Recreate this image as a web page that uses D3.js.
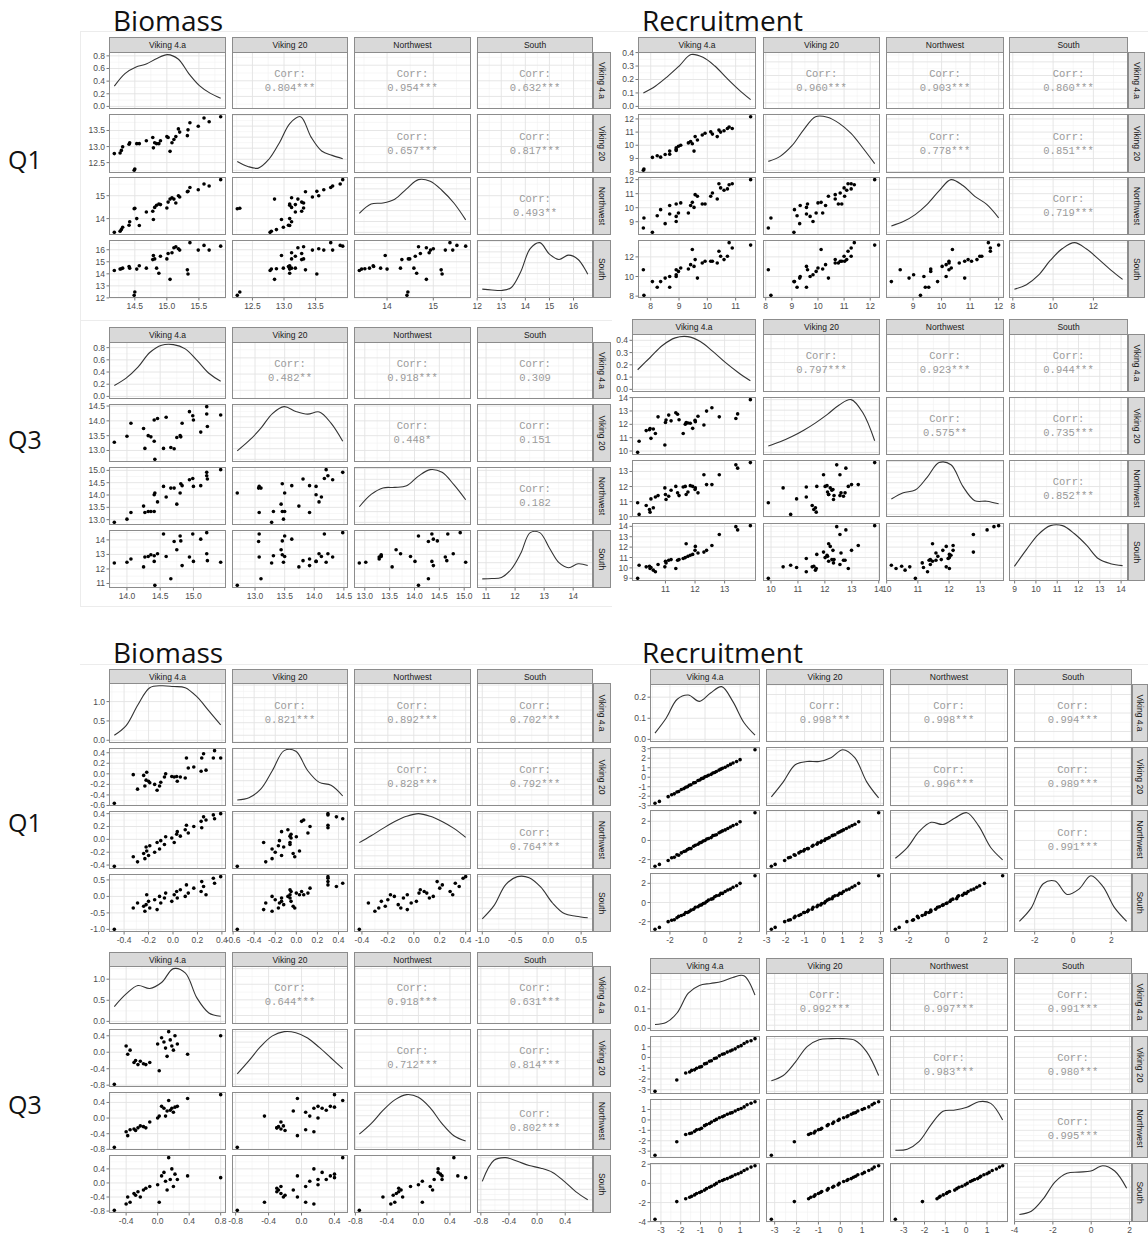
<!DOCTYPE html>
<html>
<head>
  <meta charset="utf-8">
  <title>Pair plots - Biomass and Recruitment</title>
  <script src="https://d3js.org/d3.v7.min.js"></script>
  <style>body{margin:0;background:#fff;}</style>
</head>
<body>
<svg id="fig" width="1148" height="1237"></svg>
<script>
// variable names (strip labels)
var varNames = ["Viking 4.a", "Viking 20", "Northwest", "South"];

// ---- Biomass Q1 (top) ----
var bq1V4a = [14.18,14.27,14.29,14.31,14.41,14.42,14.49,14.50,14.53,14.57,14.68,14.78,14.79,14.81,14.84,14.875,14.90,15.00,15.02,15.05,15.08,15.11,15.14,15.18,15.20,15.32,15.33,15.36,15.49,15.58,15.66,15.84];
var bq1V20 = [12.78,12.80,12.88,12.99,13.07,13.12,12.26,12.30,13.09,13.09,13.18,13.28,12.96,13.12,13.09,13.09,13.18,13.31,13.28,12.85,13.12,13.22,13.31,13.55,13.45,13.34,13.52,13.74,13.63,13.89,13.77,13.93];
var bq1NW = [13.40,13.45,13.52,13.62,13.71,13.86,14.43,14.45,14.00,13.70,14.29,14.32,13.96,14.49,14.58,14.64,14.61,14.46,14.72,14.85,14.91,14.85,14.68,15.00,14.94,15.17,15.19,15.36,15.26,15.51,15.42,15.70];
var bq1S = [14.27,14.39,14.42,14.47,14.61,14.47,12.21,12.49,14.39,14.67,14.47,15.18,15.52,15.24,14.47,14.05,15.46,15.24,15.69,13.54,15.75,16.17,16.25,16.08,15.97,14.33,13.99,16.59,15.97,16.36,15.97,16.30];
var bq1Dens = [
  [0.32,0.52,0.62,0.67,0.76,0.82,0.75,0.52,0.33,0.21,0.13],
  [0.16,0.07,0.04,0.20,0.50,0.85,0.97,0.60,0.35,0.27,0.21],
  [0.35,0.52,0.54,0.61,0.80,0.97,0.94,0.77,0.54,0.23],
  [0.115,0.10,0.09,0.14,0.43,0.86,0.97,0.76,0.66,0.74,0.66,0.39]
];
var bq1Ticks = [["14.5","15.0","15.5"], ["12.5","13.0","13.5"], ["14","15"], ["12","13","14","15","16"]];
var bq1DensTicks = ["0.0","0.2","0.4","0.6","0.8"];
var bq1Corr = ["0.804***","0.954***","0.632***","0.657***","0.817***","0.493**"];

// ---- Biomass Q3 (top) ----
var bq3V4a = [13.81,14.00,14.06,14.25,14.27,14.32,14.36,14.41,14.41,14.42,14.46,14.55,14.59,14.66,14.71,14.75,14.80,14.81,14.83,14.94,14.99,15.00,15.11,15.20,15.20,15.21,15.41];
var bq3V20 = [13.28,13.48,13.92,13.74,13.07,13.50,13.46,13.31,14.03,12.70,14.08,13.07,14.12,13.10,13.06,13.44,13.50,13.46,13.92,14.31,14.17,14.03,13.62,14.48,14.23,13.81,14.20];
var bq3NW = [12.89,13.02,13.29,13.55,13.29,13.33,13.33,13.33,14.01,14.08,13.72,14.35,13.92,14.28,14.28,13.63,14.08,14.46,14.38,14.62,14.67,14.35,14.38,14.92,14.78,14.65,15.03];
var bq3S = [12.41,12.46,12.69,12.14,12.82,12.86,12.98,12.91,12.52,10.87,13.05,14.41,12.86,11.33,13.89,13.32,14.27,13.93,12.23,12.82,14.41,12.52,14.05,14.50,13.05,12.57,12.46];
var bq3Dens = [
  [0.18,0.30,0.48,0.72,0.84,0.85,0.78,0.59,0.38,0.25],
  [0.16,0.35,0.58,0.86,0.99,0.90,0.85,0.89,0.68,0.34],
  [0.29,0.52,0.64,0.65,0.68,0.86,0.98,0.93,0.70,0.42],
  [0.115,0.12,0.14,0.28,0.56,0.93,0.93,0.66,0.40,0.31,0.38,0.35]
];
var bq3Ticks = [["14.0","14.5","15.0"], ["13.0","13.5","14.0","14.5"], ["13.0","13.5","14.0","14.5","15.0"], ["11","12","13","14"]];
var bq3DensTicks = ["0.0","0.2","0.4","0.6","0.8"];
var bq3Corr = ["0.482**","0.918***","0.309","0.448*","0.151","0.182"];

// ---- Recruitment Q1 (top) ----
var rq1V4a = [7.74,7.76,8.06,8.23,8.35,8.51,8.67,8.67,8.90,8.90,8.98,8.90,9.06,9.33,9.41,9.47,9.53,9.57,9.65,9.82,9.92,10.12,10.18,10.35,10.41,10.47,10.59,10.71,10.77,10.88,11.53];
var rq1V20 = [8.10,8.20,9.08,9.20,9.10,9.30,9.56,9.32,9.81,9.70,9.93,9.60,10.00,10.18,10.29,10.12,9.56,10.66,10.40,10.78,10.91,11.02,10.85,10.66,11.15,11.00,11.10,11.27,11.39,11.27,12.17];
var rq1NW = [8.55,9.26,8.24,9.43,9.86,8.86,9.55,10.16,9.02,9.38,9.62,10.26,10.34,9.62,10.16,10.38,10.02,10.93,10.81,10.26,10.26,10.81,11.05,10.62,11.71,11.41,11.24,11.34,11.64,11.71,12.00];
var rq1S = [10.69,8.08,9.48,8.91,9.48,9.84,8.91,10.00,10.18,10.00,10.52,10.69,10.87,10.76,11.21,12.75,11.03,11.72,9.84,11.38,11.55,11.55,11.55,11.38,12.58,12.06,11.72,12.06,13.45,12.90,13.20];
var rq1Dens = [
  [0.10,0.15,0.22,0.30,0.385,0.365,0.30,0.21,0.125,0.05],
  [0.16,0.25,0.44,0.73,0.96,0.95,0.84,0.66,0.40,0.12],
  [0.12,0.20,0.33,0.52,0.77,0.98,0.87,0.67,0.52,0.27],
  [0.115,0.20,0.38,0.66,0.88,0.99,0.87,0.68,0.48,0.30]
];
var rq1Ticks = [["8","9","10","11"], ["8","9","10","11","12"], ["9","10","11","12"], ["8","10","12"]];
var rq1DensTicks = ["0.0","0.1","0.2","0.3","0.4"];
var rq1Corr = ["0.960***","0.903***","0.860***","0.778***","0.851***","0.719***"];

// ---- Recruitment Q3 (top) ----
var rq3V4a = [10.06,10.11,10.35,10.51,10.46,10.48,10.59,10.66,10.75,10.98,11.00,11.02,11.11,11.19,11.35,11.41,11.46,11.60,11.67,11.70,11.76,11.84,11.92,12.00,12.01,12.10,12.30,12.39,12.57,12.82,13.38,13.44,13.87];
var rq3V20 = [9.90,10.73,11.53,10.95,11.59,11.68,11.65,11.31,12.56,10.45,12.14,12.32,12.69,12.26,12.87,12.75,12.34,11.31,12.01,12.14,12.10,12.08,11.70,12.30,12.20,12.60,11.95,12.99,13.24,12.56,12.44,12.78,13.85];
var rq3NW = [10.92,10.15,10.74,11.18,10.48,10.30,10.59,11.31,11.40,11.91,11.47,11.14,11.36,11.75,12.01,11.58,11.40,11.97,12.01,11.47,11.64,12.06,12.01,11.80,11.91,11.58,12.78,12.13,12.13,12.78,13.44,13.22,13.59];
var rq3S = [8.99,10.26,10.10,10.04,10.16,9.94,9.78,9.62,10.32,10.10,10.64,10.48,10.73,10.80,9.94,10.73,10.80,10.90,10.99,12.32,11.11,11.21,11.30,11.69,12.07,11.43,11.52,11.69,12.16,13.21,13.97,13.66,14.07];
var rq3Dens = [
  [0.16,0.26,0.36,0.42,0.43,0.39,0.31,0.22,0.14,0.07],
  [0.12,0.20,0.30,0.42,0.56,0.72,0.90,1.00,0.75,0.22],
  [0.29,0.41,0.46,0.70,0.98,0.94,0.53,0.26,0.25,0.20],
  [0.22,0.53,0.81,0.97,0.97,0.82,0.61,0.36,0.27,0.235]
];
var rq3Ticks = [["11","12","13"], ["10","11","12","13","14"], ["10","11","12","13"], ["9","10","11","12","13","14"]];
var rq3DensTicks = ["0.0","0.1","0.2","0.3","0.4"];
var rq3Corr = ["0.797***","0.923***","0.944***","0.575**","0.735***","0.852***"];

// ---- Biomass Q1 (bottom, anomalies) ----
var bq1aV4a = [-0.48,-0.325,-0.29,-0.24,-0.23,-0.22,-0.215,-0.20,-0.19,-0.15,-0.13,-0.11,-0.10,-0.07,-0.06,-0.01,0.01,0.03,0.035,0.06,0.10,0.11,0.125,0.17,0.23,0.235,0.25,0.27,0.33,0.34,0.39];
var bq1aV20 = [-0.56,-0.015,-0.29,-0.03,-0.23,-0.12,0.03,-0.14,-0.17,-0.20,-0.31,-0.23,-0.16,-0.06,0.00,-0.05,-0.06,-0.05,-0.14,-0.06,-0.08,0.30,0.11,0.13,0.05,0.30,0.38,0.07,0.30,0.44,0.30];
var bq1aNW = [-0.42,-0.27,-0.35,-0.22,-0.30,-0.12,-0.18,-0.25,-0.10,-0.20,-0.05,-0.15,-0.02,-0.08,0.04,0.02,-0.05,0.08,0.12,0.05,0.15,0.22,0.10,0.20,0.28,0.18,0.35,0.30,0.38,0.32,0.40];
var bq1aS = [-1.0,-0.35,-0.20,-0.30,-0.45,-0.25,0.05,-0.15,-0.35,-0.10,-0.40,0.0,-0.20,-0.05,0.10,-0.15,0.05,0.15,-0.05,0.20,0.0,0.35,0.10,0.25,0.15,0.45,0.30,0.05,0.55,0.40,0.60];
var bq1aDens = [
  [0.13,0.38,0.92,1.36,1.41,1.39,1.36,1.12,0.76,0.40],
  [0.06,0.10,0.25,0.58,0.93,0.92,0.58,0.37,0.32,0.13],
  [0.45,0.58,0.72,0.85,0.95,1.00,0.95,0.85,0.72,0.55],
  [0.20,0.45,0.85,1.00,0.98,0.80,0.50,0.30,0.25,0.22]
];
var bq1aTicks = [["-0.4","-0.2","0.0","0.2","0.4"], ["-0.6","-0.4","-0.2","0.0","0.2","0.4"], ["-0.4","-0.2","0.0","0.2","0.4"], ["-1.0","-0.5","0.0","0.5"]];
var bq1aDensTicks = ["0.0","0.5","1.0"];
var bq1aCorr = ["0.821***","0.892***","0.702***","0.828***","0.792***","0.764***"];

// ---- Biomass Q3 (bottom, anomalies) ----
var bq3aV4a = [-0.55,-0.40,-0.38,-0.35,-0.30,-0.28,-0.25,-0.22,-0.18,-0.15,-0.10,0.00,0.02,0.05,0.08,0.10,0.12,0.14,0.16,0.18,0.20,0.22,0.25,0.38,0.80];
var bq3aV20 = [-0.78,0.15,-0.05,0.05,-0.25,-0.20,-0.30,-0.22,-0.28,-0.30,-0.25,0.20,-0.45,0.35,0.25,0.10,-0.10,0.50,0.30,0.15,0.05,0.40,0.20,-0.05,0.40];
var bq3aNW = [-0.75,-0.35,-0.45,-0.30,-0.28,-0.32,-0.25,-0.20,-0.22,-0.25,-0.10,0.00,0.05,0.30,0.25,0.05,0.18,0.45,0.20,0.25,0.15,0.28,0.30,0.50,0.60];
var bq3aS = [-0.78,-0.60,-0.40,-0.55,-0.30,-0.35,-0.25,-0.40,-0.20,-0.15,-0.10,-0.05,-0.55,0.20,0.30,0.05,-0.20,0.72,0.10,0.40,-0.10,0.25,0.10,0.20,0.15];
var bq3aDens = [
  [0.35,0.65,0.85,0.78,0.92,1.25,1.15,0.55,0.20,0.12],
  [0.20,0.45,0.72,0.92,1.00,0.98,0.88,0.70,0.50,0.30],
  [0.25,0.45,0.70,0.90,1.00,0.95,0.75,0.45,0.22,0.12],
  [0.55,0.95,1.00,0.93,0.85,0.80,0.72,0.55,0.35,0.20]
];
var bq3aTicks = [["-0.4","0.0","0.4","0.8"], ["-0.8","-0.4","0.0","0.4"], ["-0.8","-0.4","0.0","0.4"], ["-0.8","-0.4","0.0","0.4","0.8"]];
var bq3aDensTicks = ["0.0","0.5","1.0"];
var bq3aCorr = ["0.644***","0.918***","0.631***","0.712***","0.814***","0.802***"];

// ---- Recruitment Q1 (bottom, anomalies) ----
var rq1aV4a = [-2.85,-2.6,-2.1,-1.9,-1.75,-1.6,-1.5,-1.35,-1.2,-1.1,-1.0,-0.9,-0.8,-0.65,-0.55,-0.4,-0.3,-0.2,-0.1,0.0,0.1,0.2,0.35,0.45,0.55,0.65,0.8,0.9,1.0,1.15,1.3,1.45,1.6,1.8,2.0,2.85];
var rq1aV20 = [-2.75,-2.55,-2.05,-1.85,-1.75,-1.55,-1.5,-1.3,-1.2,-1.05,-1.0,-0.85,-0.8,-0.6,-0.55,-0.35,-0.3,-0.15,-0.1,0.05,0.1,0.2,0.3,0.45,0.5,0.6,0.75,0.85,0.95,1.05,1.2,1.35,1.5,1.65,1.85,2.9];
var rq1aNW = [-2.7,-2.5,-2.1,-1.8,-1.75,-1.5,-1.55,-1.3,-1.15,-1.1,-0.95,-0.85,-0.85,-0.6,-0.5,-0.4,-0.25,-0.2,-0.05,0.0,0.15,0.2,0.3,0.5,0.55,0.6,0.8,0.9,1.0,1.1,1.25,1.4,1.55,1.7,1.95,2.9];
var rq1aS = [-2.8,-2.6,-2.0,-1.85,-1.8,-1.6,-1.45,-1.35,-1.25,-1.05,-1.05,-0.95,-0.8,-0.7,-0.5,-0.45,-0.3,-0.25,-0.1,-0.05,0.1,0.25,0.35,0.4,0.6,0.7,0.75,0.95,0.95,1.15,1.3,1.4,1.6,1.75,2.0,2.8];
var rq1aDens = [
  [0.03,0.10,0.19,0.21,0.18,0.22,0.25,0.18,0.08,0.02],
  [0.12,0.40,0.72,0.78,0.78,0.85,1.00,0.85,0.40,0.10],
  [0.15,0.35,0.65,0.82,0.78,0.90,1.00,0.75,0.35,0.12],
  [0.15,0.40,0.85,0.90,0.65,0.75,1.00,0.80,0.40,0.15]
];
var rq1aTicks = [["-2","0","2"], ["-3","-2","-1","0","1","2","3"], ["-2","0","2"], ["-2","0","2"]];
var rq1aDensTicks = ["0.0","0.1","0.2"];
var rq1aCorr = ["0.998***","0.998***","0.994***","0.996***","0.989***","0.991***"];

// ---- Recruitment Q3 (bottom, anomalies) ----
var rq3aV4a = [-3.3,-2.2,-1.75,-1.55,-1.45,-1.3,-1.2,-1.05,-0.95,-0.8,-0.7,-0.55,-0.45,-0.3,-0.2,-0.05,0.1,0.2,0.35,0.5,0.6,0.75,0.9,1.05,1.2,1.35,1.55,1.75];
var rq3aV20 = [-3.15,-2.1,-1.45,-1.35,-1.2,-1.15,-1.0,-0.9,-0.85,-0.6,-0.55,-0.35,-0.3,-0.1,-0.05,0.15,0.3,0.35,0.5,0.6,0.7,0.8,1.0,1.1,1.3,1.45,1.55,1.75];
var rq3aNW = [-3.4,-2.1,-1.4,-1.3,-1.25,-1.1,-0.95,-0.9,-0.8,-0.55,-0.45,-0.35,-0.2,-0.05,0.05,0.2,0.3,0.4,0.55,0.65,0.7,0.85,1.0,1.1,1.25,1.45,1.6,1.75];
var rq3aS = [-3.75,-1.9,-1.6,-1.45,-1.35,-1.2,-1.05,-0.95,-0.85,-0.7,-0.55,-0.4,-0.3,-0.15,0.0,0.2,0.3,0.4,0.5,0.65,0.75,0.9,1.0,1.15,1.35,1.5,1.7,1.85];
var rq3aDens = [
  [0.02,0.03,0.08,0.18,0.22,0.23,0.24,0.26,0.27,0.17],
  [0.20,0.30,0.55,0.85,0.98,1.00,1.00,0.97,0.75,0.30],
  [0.09,0.11,0.25,0.55,0.79,0.81,0.86,0.96,0.93,0.63],
  [0.09,0.15,0.38,0.70,0.86,0.88,0.90,1.00,0.90,0.58]
];
var rq3aTicks = [["-3","-2","-1","0","1"], ["-3","-2","-1","0","1","2"], ["-3","-2","-1","0","1"], ["-4","-2","0","2"]];
var rq3aDensTicks = ["0.0","0.1","0.2"];
var rq3aCorr = ["0.992***","0.997***","0.991***","0.983***","0.980***","0.995***"];

var svg = d3.select("#fig");
var sansFont = "'Liberation Sans', Arial, sans-serif";

// faint frame lines of the pasted screenshots
var frame = [[80,31.5,1148,31.5],[80.5,31,80.5,606],[80,320.5,612,320.5],[80,606.5,612,606.5],[80,664.5,1148,664.5]];
svg.selectAll(".frame").data(frame).enter().append("line")
    .attr("x1", function(d){return d[0];}).attr("y1", function(d){return d[1];})
    .attr("x2", function(d){return d[2];}).attr("y2", function(d){return d[3];})
    .attr("stroke", "#ececec").attr("stroke-width", 1);

// titles and quarter labels
var titles = [["Biomass",113,31],["Recruitment",642,31],["Biomass",113,663],["Recruitment",642,663]];
svg.selectAll(".title").data(titles).enter().append("text")
    .attr("x", function(d){return d[1];}).attr("y", function(d){return d[2];})
    .attr("font-family", "'Open Sans', sans-serif").attr("font-size", "28px").attr("fill", "#111")
    .text(function(d){return d[0];});
var quarters = [["Q1",169],["Q3",449],["Q1",832],["Q3",1114]];
svg.selectAll(".quarter").data(quarters).enter().append("text")
    .attr("x", 8).attr("y", function(d){return d[1];})
    .attr("font-family", "'Open Sans', sans-serif").attr("font-size", "25px").attr("fill", "#111")
    .text(function(d){return d[0];});

// midpoints between majors (plus one step outside) for the minor grid
function minorOf(major) {
  var out = [];
  if (major.length < 2) return out;
  var step = major[1] - major[0];
  out.push(major[0] - step/2);
  for (var i = 0; i < major.length; i++) out.push(major[i] + step/2);
  return out;
}

function drawMatrix(cfg) {
  var g = svg.append("g");
  var xs = [], ys = [], dys = [], exts = [];
  for (var k = 0; k < 4; k++) {
    var ext = d3.extent(cfg.obs[k]);
    var pad = (ext[1] - ext[0]) * 0.05;
    exts.push(ext);
    xs.push(d3.scaleLinear().domain([ext[0]-pad, ext[1]+pad]).range([cfg.cols[k], cfg.cols[k] + cfg.colW[k]]));
    ys.push(d3.scaleLinear().domain([ext[0]-pad, ext[1]+pad]).range([cfg.rows[k] + cfg.rowH[k], cfg.rows[k]]));
    var dmax = d3.max(cfg.dens[k]);
    dys.push(d3.scaleLinear().domain([-0.05*dmax, 1.05*dmax]).range([cfg.rows[k] + cfg.rowH[k], cfg.rows[k]]));
  }

  for (var i = 0; i < 4; i++) {
    for (var j = 0; j < 4; j++) {
      var x0 = cfg.cols[j], w = cfg.colW[j], y0 = cfg.rows[i], h = cfg.rowH[i];
      var p = g.append("g");
      p.append("rect").attr("x", x0).attr("y", y0).attr("width", w).attr("height", h).attr("fill", "#fff");

      // grid
      var xMaj = cfg.ticks[j].map(Number);
      var yScale = (i == j) ? dys[i] : ys[i];
      var yMaj;
      if (i == j) yMaj = (i == 0) ? cfg.densTicks.map(Number) : dys[i].ticks(4);
      else yMaj = cfg.ticks[i].map(Number);
      var dx = xs[j].domain(), dy = yScale.domain();
      var inX = function(v){ return v >= dx[0] && v <= dx[1]; };
      var inY = function(v){ return v >= dy[0] && v <= dy[1]; };
      p.selectAll(".vmin").data(minorOf(xMaj).filter(inX)).enter().append("line")
          .attr("x1", function(d){return xs[j](d);}).attr("x2", function(d){return xs[j](d);})
          .attr("y1", y0).attr("y2", y0 + h).attr("stroke", "#f1f1f1").attr("stroke-width", 0.6);
      p.selectAll(".hmin").data(minorOf(yMaj).filter(inY)).enter().append("line")
          .attr("y1", function(d){return yScale(d);}).attr("y2", function(d){return yScale(d);})
          .attr("x1", x0).attr("x2", x0 + w).attr("stroke", "#f1f1f1").attr("stroke-width", 0.6);
      p.selectAll(".vmaj").data(xMaj.filter(inX)).enter().append("line")
          .attr("x1", function(d){return xs[j](d);}).attr("x2", function(d){return xs[j](d);})
          .attr("y1", y0).attr("y2", y0 + h).attr("stroke", "#e3e3e3").attr("stroke-width", 0.9);
      p.selectAll(".hmaj").data(yMaj.filter(inY)).enter().append("line")
          .attr("y1", function(d){return yScale(d);}).attr("y2", function(d){return yScale(d);})
          .attr("x1", x0).attr("x2", x0 + w).attr("stroke", "#e3e3e3").attr("stroke-width", 0.9);

      if (i == j) {
        // density curve
        var dv = cfg.dens[i], e = exts[i];
        var pts = dv.map(function(v, n){ return [e[0] + n * (e[1] - e[0]) / (dv.length - 1), v]; });
        var line = d3.line()
            .x(function(d){ return xs[i](d[0]); })
            .y(function(d){ return dys[i](d[1]); })
            .curve(d3.curveCatmullRom.alpha(0.5));
        p.append("path").attr("d", line(pts)).attr("fill", "none")
            .attr("stroke", "#333").attr("stroke-width", 1.1);
      } else if (i > j) {
        // scatter
        var xi = cfg.obs[j], yi = cfg.obs[i], ii = i, jj = j;
        p.selectAll("circle").data(d3.range(xi.length)).enter().append("circle")
            .attr("cx", function(n){ return xs[jj](xi[n]); })
            .attr("cy", function(n){ return ys[ii](yi[n]); })
            .attr("r", 1.8).attr("fill", "#000");
      }

      p.append("rect").attr("x", x0 + 0.5).attr("y", y0 + 0.5).attr("width", w - 1).attr("height", h - 1)
          .attr("fill", "none").attr("stroke", "#8c8c8c").attr("stroke-width", 1);
    }
  }

  // correlation text (upper triangle, order 12,13,14,23,24,34)
  var pairs = [[0,1],[0,2],[0,3],[1,2],[1,3],[2,3]];
  pairs.forEach(function(pr, n) {
    var cx = cfg.cols[pr[1]] + cfg.colW[pr[1]] / 2, cy = cfg.rows[pr[0]] + cfg.rowH[pr[0]] / 2;
    [["Corr:", -7], [cfg.corr[n], 7]].forEach(function(t) {
      g.append("text").attr("x", cx).attr("y", cy + t[1])
          .attr("text-anchor", "middle").attr("dominant-baseline", "central")
          .attr("font-family", "'Liberation Mono', 'Courier New', monospace").attr("font-size", "10.5px")
          .attr("fill", "#9a9a9a").text(t[0]);
    });
  });

  // top strips
  for (var j = 0; j < 4; j++) {
    g.append("rect").attr("x", cfg.cols[j] + 0.5).attr("y", cfg.stripTop + 0.5)
        .attr("width", cfg.colW[j] - 1).attr("height", cfg.rows[0] - cfg.stripTop)
        .attr("fill", "#d9d9d9").attr("stroke", "#8c8c8c");
    g.append("text").attr("x", cfg.cols[j] + cfg.colW[j] / 2).attr("y", (cfg.stripTop + cfg.rows[0]) / 2 + 0.5)
        .attr("text-anchor", "middle").attr("dominant-baseline", "central")
        .attr("font-family", sansFont).attr("font-size", "8.5px").attr("fill", "#1a1a1a").text(varNames[j]);
  }
  // right strips
  var sx = cfg.cols[3] + cfg.colW[3];
  for (var i = 0; i < 4; i++) {
    g.append("rect").attr("x", sx + 0.5).attr("y", cfg.rows[i] + 0.5)
        .attr("width", cfg.stripRight - sx - 1).attr("height", cfg.rowH[i] - 1)
        .attr("fill", "#d9d9d9").attr("stroke", "#8c8c8c");
    var tx = (sx + cfg.stripRight) / 2, ty = cfg.rows[i] + cfg.rowH[i] / 2;
    g.append("text").attr("x", tx).attr("y", ty)
        .attr("transform", "rotate(90 " + tx + "," + ty + ")")
        .attr("text-anchor", "middle").attr("dominant-baseline", "central")
        .attr("font-family", sansFont).attr("font-size", "8.5px").attr("fill", "#1a1a1a").text(varNames[i]);
  }

  // left axis labels
  for (var i = 0; i < 4; i++) {
    var sc = (i == 0) ? dys[0] : ys[i];
    var labs = (i == 0) ? cfg.densTicks : cfg.ticks[i];
    var dom = sc.domain();
    labs.filter(function(l){ return +l >= dom[0] && +l <= dom[1]; }).forEach(function(l) {
      var y = sc(+l);
      g.append("line").attr("x1", cfg.cols[0] - 2.5).attr("x2", cfg.cols[0]).attr("y1", y).attr("y2", y)
          .attr("stroke", "#555").attr("stroke-width", 0.8);
      g.append("text").attr("x", cfg.cols[0] - 4).attr("y", y).attr("text-anchor", "end")
          .attr("dominant-baseline", "central").attr("font-family", sansFont)
          .attr("font-size", "8.5px").attr("fill", "#4d4d4d").text(l);
    });
  }
  // bottom axis labels
  var by = cfg.rows[3] + cfg.rowH[3];
  for (var j = 0; j < 4; j++) {
    var dom = xs[j].domain();
    cfg.ticks[j].filter(function(l){ return +l >= dom[0] && +l <= dom[1]; }).forEach(function(l) {
      var x = xs[j](+l);
      g.append("line").attr("x1", x).attr("x2", x).attr("y1", by).attr("y2", by + 2.5)
          .attr("stroke", "#555").attr("stroke-width", 0.8);
      g.append("text").attr("x", x).attr("y", by + 11).attr("text-anchor", "middle")
          .attr("font-family", sansFont).attr("font-size", "8.5px").attr("fill", "#4d4d4d").text(l);
    });
  }
}

var leftCols = [109, 232, 354, 477], leftW = [117, 116, 117, 116];

drawMatrix({obs: [bq1V4a, bq1V20, bq1NW, bq1S], dens: bq1Dens, ticks: bq1Ticks, densTicks: bq1DensTicks, corr: bq1Corr,
  cols: leftCols, colW: leftW, rows: [52, 114, 177, 240], rowH: [57, 59, 58, 58], stripTop: 37, stripRight: 611});
drawMatrix({obs: [bq3V4a, bq3V20, bq3NW, bq3S], dens: bq3Dens, ticks: bq3Ticks, densTicks: bq3DensTicks, corr: bq3Corr,
  cols: leftCols, colW: leftW, rows: [342, 404, 467, 530], rowH: [57, 58, 58, 58], stripTop: 327, stripRight: 611});
drawMatrix({obs: [rq1V4a, rq1V20, rq1NW, rq1S], dens: rq1Dens, ticks: rq1Ticks, densTicks: rq1DensTicks, corr: rq1Corr,
  cols: [638, 763, 886, 1009], colW: [118, 117, 118, 119], rows: [52, 114, 177, 240], rowH: [57, 59, 58, 58], stripTop: 37, stripRight: 1145});
drawMatrix({obs: [rq3V4a, rq3V20, rq3NW, rq3S], dens: rq3Dens, ticks: rq3Ticks, densTicks: rq3DensTicks, corr: rq3Corr,
  cols: [632, 763, 886, 1009], colW: [124, 117, 118, 119], rows: [334, 397, 460, 523], rowH: [58, 58, 57, 58], stripTop: 319, stripRight: 1145});
drawMatrix({obs: [bq1aV4a, bq1aV20, bq1aNW, bq1aS], dens: bq1aDens, ticks: bq1aTicks, densTicks: bq1aDensTicks, corr: bq1aCorr,
  cols: leftCols, colW: leftW, rows: [683, 748, 811, 874], rowH: [60, 58, 58, 58], stripTop: 669, stripRight: 611});
drawMatrix({obs: [bq3aV4a, bq3aV20, bq3aNW, bq3aS], dens: bq3aDens, ticks: bq3aTicks, densTicks: bq3aDensTicks, corr: bq3aCorr,
  cols: leftCols, colW: leftW, rows: [966, 1029, 1092, 1155], rowH: [58, 58, 58, 58], stripTop: 952, stripRight: 611});
drawMatrix({obs: [rq1aV4a, rq1aV20, rq1aNW, rq1aS], dens: rq1aDens, ticks: rq1aTicks, densTicks: rq1aDensTicks, corr: rq1aCorr,
  cols: [650, 766, 890, 1014], colW: [110, 118, 118, 118], rows: [684, 747, 810, 873], rowH: [58, 59, 59, 59], stripTop: 669, stripRight: 1148});
drawMatrix({obs: [rq3aV4a, rq3aV20, rq3aNW, rq3aS], dens: rq3aDens, ticks: rq3aTicks, densTicks: rq3aDensTicks, corr: rq3aCorr,
  cols: [650, 766, 890, 1014], colW: [110, 118, 118, 118], rows: [973, 1036, 1099, 1163], rowH: [58, 58, 59, 59], stripTop: 958, stripRight: 1148});
</script>
</body>
</html>
